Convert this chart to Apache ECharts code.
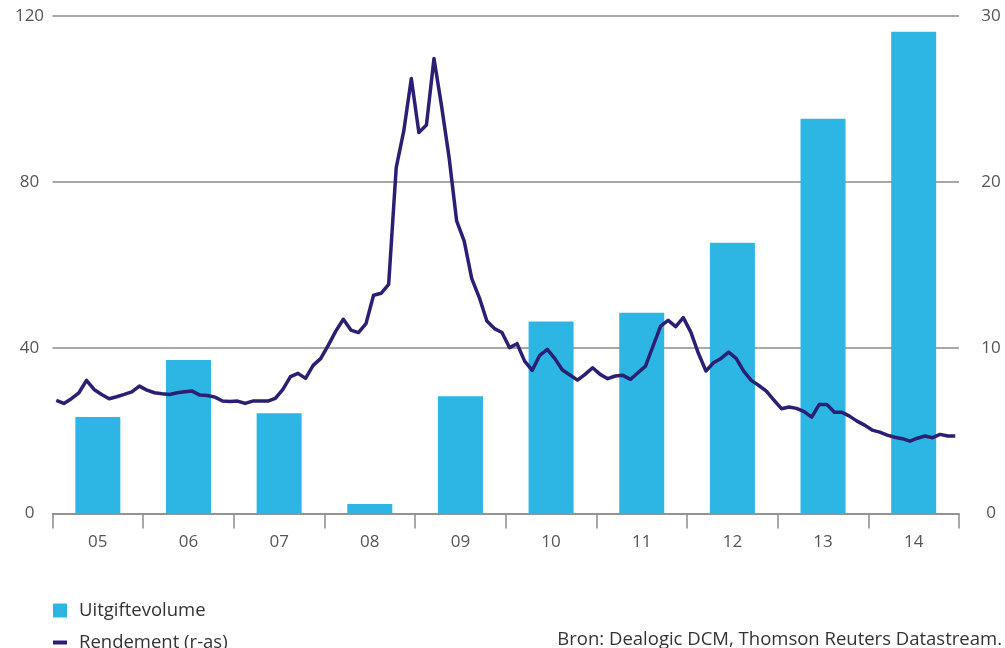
<!DOCTYPE html>
<html>
<head>
<meta charset="utf-8">
<script src="https://cdn.jsdelivr.net/npm/echarts@6/dist/echarts.min.js"></script>
<style>
html,body{margin:0;padding:0;background:#fff;}
#chart{width:1005px;height:648px;}
</style>
</head>
<body>
<div id="chart"></div>
<script>
// Years (category labels)
const yearLabels = ['05','06','07','08','09','10','11','12','13','14'];
// Uitgiftevolume (left axis)
const volume = [23.3, 37.0, 24.2, 2.3, 28.3, 46.3, 48.4, 65.3, 95.2, 116.2];
// Rendement (right axis), monthly 2005-01 .. 2014-12
const yieldValues = [
  6.82, 6.64, 6.92, 7.28, 8.03, 7.48, 7.18, 6.92, 7.04, 7.18, 7.34, 7.68,
  7.44, 7.28, 7.22, 7.18, 7.28, 7.34, 7.38, 7.14, 7.12, 7.02, 6.78, 6.76,
  6.78, 6.64, 6.78, 6.78, 6.78, 6.94, 7.48, 8.25, 8.45, 8.15, 8.93, 9.34,
  10.14, 11.0, 11.71, 11.06, 10.91, 11.45, 13.16, 13.28, 13.82, 20.86, 23.07, 26.23,
  22.97, 23.42, 27.44, 24.58, 21.47, 17.64, 16.43, 14.16, 13.02, 11.61, 11.15, 10.91,
  10.0, 10.24, 9.19, 8.63, 9.54, 9.90, 9.34, 8.65, 8.35, 8.04, 8.39, 8.79,
  8.39, 8.13, 8.29, 8.33, 8.09, 8.49, 8.89, 10.10, 11.30, 11.65, 11.27, 11.81,
  10.94, 9.66, 8.59, 9.09, 9.35, 9.73, 9.35, 8.59, 8.03, 7.72, 7.38, 6.84,
  6.32, 6.42, 6.34, 6.14, 5.81, 6.58, 6.58, 6.11, 6.11, 5.87, 5.57, 5.33,
  5.03, 4.91, 4.73, 4.60, 4.51, 4.36, 4.54, 4.67, 4.57, 4.77, 4.67, 4.67
];
const years = ['2005','2006','2007','2008','2009','2010','2011','2012','2013','2014'];
const months = ['01','02','03','04','05','06','07','08','09','10','11','12'];
const monthLabels = [];
years.forEach(y => months.forEach(m => monthLabels.push(y + '-' + m)));

const FONT = 'Open Sans';
const legendText = {fontFamily: FONT, fontSize: 18.5, color: '#333', padding: [0,0,0,7]};
const chart = echarts.init(document.getElementById('chart'), null, {renderer: 'canvas'});
chart.setOption({
  animation: false,
  backgroundColor: '#fff',
  textStyle: {fontFamily: FONT},
  title: {
    text: 'Bron: Dealogic DCM, Thomson Reuters Datastream.',
    right: -2, top: 625,
    textStyle: {fontFamily: FONT, fontSize: 18.5, fontWeight: 'normal', color: '#333'}
  },
  legend: [
    {
      orient: 'vertical', left: 48, top: 596,
      itemWidth: 14, itemHeight: 14,
      textStyle: legendText,
      data: [{name: 'Uitgiftevolume', icon: 'rect'}]
    },
    {
      orient: 'vertical', left: 48, top: 628,
      itemWidth: 14, itemHeight: 4,
      textStyle: legendText,
      data: [{name: 'Rendement (r-as)', icon: 'rect'}]
    }
  ],
  grid: {left: 52.5, right: 46, top: 16, bottom: 134.5, containLabel: false},
  xAxis: [
    {
      type: 'category', data: yearLabels, boundaryGap: true,
      axisLine: {lineStyle: {color: '#8c8c8c', width: 1.5}},
      axisTick: {show: true, length: 15, lineStyle: {color: '#8c8c8c', width: 1.5}},
      axisLabel: {fontFamily: FONT, fontSize: 17, color: '#555', margin: 20}
    },
    {
      type: 'category', data: monthLabels, boundaryGap: true, show: false
    }
  ],
  yAxis: [
    {
      type: 'value', min: 0, max: 120, interval: 40,
      axisLine: {show: false}, axisTick: {show: false},
      splitLine: {show: true, lineStyle: {color: '#a8a8a8', width: 2}},
      axisLabel: {fontFamily: FONT, fontSize: 17, color: '#555', margin: 23, align: 'center'}
    },
    {
      type: 'value', min: 0, max: 30, interval: 10, position: 'right',
      axisLine: {show: false}, axisTick: {show: false},
      splitLine: {show: false},
      axisLabel: {fontFamily: FONT, fontSize: 17, color: '#555', margin: 32, align: 'center'}
    }
  ],
  series: [
    {
      name: 'Uitgiftevolume', type: 'bar', xAxisIndex: 0, yAxisIndex: 0,
      data: volume, barWidth: 45,
      itemStyle: {color: '#2db6e4'}
    },
    {
      name: 'Rendement (r-as)', type: 'line', xAxisIndex: 1, yAxisIndex: 1,
      data: yieldValues, symbol: 'none', showSymbol: false,
      lineStyle: {color: '#2a1f72', width: 3.5, join: 'round'},
      itemStyle: {color: '#2a1f72'}
    }
  ]
});
</script>
</body>
</html>
